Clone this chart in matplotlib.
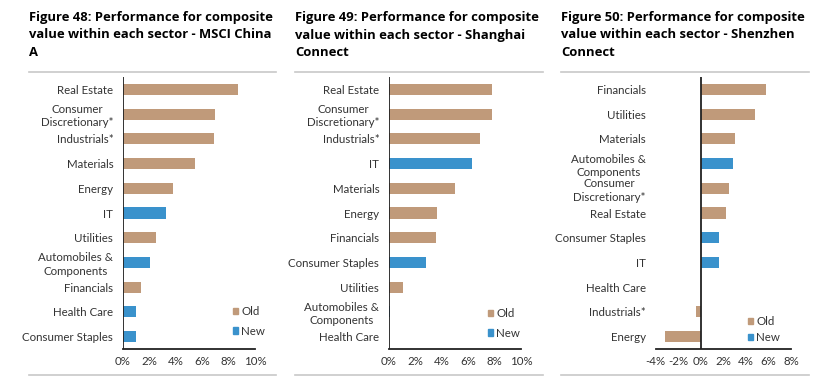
import matplotlib
matplotlib.use("Agg")
import matplotlib.pyplot as plt
from matplotlib.patches import Patch
from matplotlib.lines import Line2D

plt.rcParams['font.family'] = ['Lato', 'DejaVu Sans']

OLD = '#C09A7A'
NEW = '#3A92CC'

# ---- data ----
titles = [
    "Figure 48: Performance for composite\nvalue within each sector - MSCI China\nA",
    "Figure 49: Performance for composite\nvalue within each sector - Shanghai\nConnect",
    "Figure 50: Performance for composite\nvalue within each sector - Shenzhen\nConnect",
]

cats1 = ["Real Estate", "Consumer\nDiscretionary*", "Industrials*", "Materials", "Energy", "IT",
         "Utilities", "Automobiles &\nComponents", "Financials", "Health Care", "Consumer Staples"]
vals1 = [8.68, 6.94, 6.86, 5.42, 3.82, 3.22, 2.53, 2.08, 1.39, 1.01, 0.96]
type1 = ["Old", "Old", "Old", "Old", "Old", "New", "Old", "New", "Old", "New", "New"]

cats2 = ["Real Estate", "Consumer\nDiscretionary*", "Industrials*", "IT", "Materials", "Energy",
         "Financials", "Consumer Staples", "Utilities", "Automobiles &\nComponents", "Health Care"]
vals2 = [7.79, 7.79, 6.88, 6.27, 4.97, 3.60, 3.53, 2.77, 1.07, 0.08, 0.02]
type2 = ["Old", "Old", "Old", "New", "Old", "Old", "Old", "New", "Old", "New", "New"]

cats3 = ["Financials", "Utilities", "Materials", "Automobiles &\nComponents", "Consumer\nDiscretionary*",
         "Real Estate", "Consumer Staples", "IT", "Health Care", "Industrials*", "Energy"]
vals3 = [5.78, 4.80, 3.05, 2.84, 2.49, 2.22, 1.63, 1.63, 0.0, -0.44, -3.17]
type3 = ["Old", "Old", "Old", "New", "Old", "Old", "New", "New", "New", "Old", "Old"]

xticks1 = [0, 2, 4, 6, 8, 10]
xticks2 = [0, 2, 4, 6, 8, 10]
xticks3 = [-4, -2, 0, 2, 4, 6, 8]

W, H = 838, 376
fig = plt.figure(figsize=(W / 100, H / 100), dpi=100)

def px_axes(l, r, t, b):
    return fig.add_axes([l / W, 1 - b / H, (r - l) / W, (b - t) / H])

panels = [
    dict(cats=cats1, vals=vals1, types=type1, xt=xticks1, xlim=(0, 10),
         ax=(123, 255, 77, 349), title_x=29, line=(29, 276), leg=(233, 306)),
    dict(cats=cats2, vals=vals2, types=type2, xt=xticks2, xlim=(0, 10),
         ax=(389, 521, 77, 349), title_x=295, line=(295, 543), leg=(488, 308)),
    dict(cats=cats3, vals=vals3, types=type3, xt=xticks3, xlim=(-4, 8),
         ax=(655.7, 791, 77, 349), title_x=561, line=(561, 809), leg=(748, 316)),
]

for i, p in enumerate(panels):
    ax = px_axes(*p['ax'])
    y = list(range(len(p['cats'])))
    colors = [OLD if t == "Old" else NEW for t in p['types']]
    ax.barh(y, p['vals'], height=0.45, color=colors)
    ax.set_ylim(len(y) - 0.5, -0.5)
    ax.set_xlim(*p['xlim'])
    ax.set_xticks(p['xt'])
    ax.set_xticklabels([f"{v}%" for v in p['xt']])
    ax.set_yticks(y)
    ax.set_yticklabels(p['cats'])
    for lab in ax.get_yticklabels():
        lab.set_multialignment('center')
        lab.set_linespacing(1.25)
    ax.tick_params(axis='both', length=0, labelsize=8.3, colors='#333333')
    ax.tick_params(axis='y', pad=7)
    ax.tick_params(axis='x', pad=5)
    for s in ['top', 'right', 'left']:
        ax.spines[s].set_visible(False)
    ax.spines['bottom'].set_color('#222222')
    ax.spines['bottom'].set_linewidth(1.3)
    ax.axvline(0, color='#222222', lw=1.3)
    ax.set_facecolor('none')

    # title
    fig.text(p['title_x'] / W, 1 - 11 / H, titles[i], fontsize=9.4, fontweight='bold',
             family=['Open Sans', 'DejaVu Sans'],
             va='top', ha='left', linespacing=1.45, color='black')
    # rules
    l0, l1 = p['line']
    fig.add_artist(Line2D([l0 / W, l1 / W], [1 - 72 / H, 1 - 72 / H], color='#C8C8C8', lw=1.2))
    fig.add_artist(Line2D([l0 / W, l1 / W], [1 - 374.5 / H, 1 - 374.5 / H], color='#C8C8C8', lw=1.2))

    handles = [Patch(color=OLD, label='Old'), Patch(color=NEW, label='New')]
    lx, ly = p['leg']
    spacing = 0.75 if i < 2 else 0.45
    ax.legend(handles=handles, loc='upper left', bbox_to_anchor=(lx / W, 1 - ly / H),
              bbox_transform=fig.transFigure, frameon=False, fontsize=8.3,
              handlelength=0.45, handleheight=0.45, handletextpad=0.25,
              borderpad=0, borderaxespad=0, labelspacing=spacing, labelcolor='#333333')

fig.savefig('out.png', dpi=100)
